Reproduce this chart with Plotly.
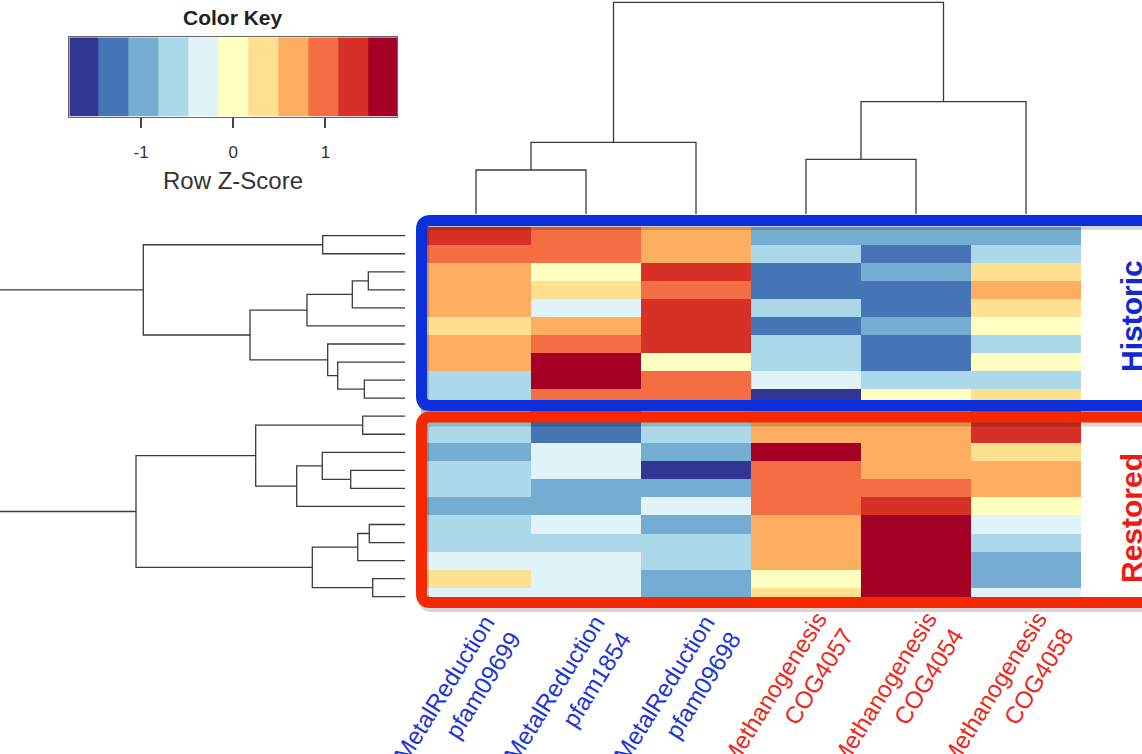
import plotly.graph_objects as go

W, H = 1142, 754

# ---------------- data ----------------
col_names = ["MetalReduction<br>pfam09699", "MetalReduction<br>pfam1854", "MetalReduction<br>pfam09698",
             "Methanogenesis<br>COG4057", "Methanogenesis<br>COG4054", "Methanogenesis<br>COG4058"]
col_groups = ["metal", "metal", "metal", "methano", "methano", "methano"]

# Row z-scores (rows top to bottom); first 10 Historic, last 11 Restored
historic_z = [
    [1.30, 0.97, 0.65, -0.97, -0.97, -0.97],
    [0.97, 0.97, 0.65, -0.65, -1.30, -0.65],
    [0.65, 0.00, 1.30, -1.30, -0.97, 0.32],
    [0.65, 0.32, 0.97, -1.30, -1.30, 0.65],
    [0.65, -0.32, 1.30, -0.65, -1.30, 0.32],
    [0.32, 0.65, 1.30, -1.30, -0.97, 0.00],
    [0.65, 0.97, 1.30, -0.65, -1.30, -0.65],
    [0.65, 1.62, 0.00, -0.65, -1.30, 0.00],
    [-0.65, 1.62, 0.97, -0.32, -0.65, -0.65],
    [-0.65, 0.97, 0.97, -1.62, 0.00, 0.32],
]
restored_z = [
    [-0.65, -1.30, -0.65, 0.65, 0.65, 1.30],
    [-0.65, -1.30, -0.65, 0.65, 0.65, 1.30],
    [-0.97, -0.32, -0.97, 1.62, 0.65, 0.32],
    [-0.65, -0.32, -1.62, 0.97, 0.65, 0.65],
    [-0.65, -0.97, -0.97, 0.97, 0.97, 0.65],
    [-0.97, -0.97, -0.32, 0.97, 1.30, 0.00],
    [-0.65, -0.32, -0.97, 0.65, 1.62, -0.32],
    [-0.65, -0.65, -0.65, 0.65, 1.62, -0.65],
    [-0.32, -0.32, -0.65, 0.65, 1.62, -0.97],
    [0.32, -0.32, -0.97, 0.00, 1.62, -0.97],
    [-0.32, -0.32, -0.97, 0.32, 1.62, -0.32],
]

# Dendrogram merges: (child_a, child_b, height); leaves 0..n-1, merges get ids n, n+1, ...
col_merges = [(0, 1, 0.44), (6, 2, 0.717), (3, 4, 0.547), (8, 5, 1.123), (7, 9, 2.117)]
historic_merges = [(0, 1, 0.823), (2, 3, 0.367), (11, 4, 0.527), (12, 5, 0.98), (8, 9, 0.407),
                   (7, 14, 0.673), (6, 15, 0.773), (13, 16, 1.55), (10, 17, 2.617)]
restored_merges = [(0, 1, 0.423), (3, 4, 0.543), (2, 12, 0.827), (13, 5, 1.083), (11, 14, 1.493),
                   (6, 7, 0.357), (16, 8, 0.473), (9, 10, 0.323), (17, 18, 0.927), (15, 19, 2.69)]
row_stem_height = 4.05

# Color key
key_colors = ["#313695", "#4575b4", "#74add1", "#abd9e9", "#e0f3f8", "#ffffbf",
              "#fee090", "#fdae61", "#f46d43", "#d73027", "#a50026"]
key_centers = [-1.62, -1.30, -0.97, -0.65, -0.32, 0.00, 0.32, 0.65, 0.97, 1.30, 1.62]
key_ticks = [-1, 0, 1]
zlim = 1.78

# ---------------- helpers ----------------
def px(x):
    return x / W

def py(y):
    return 1 - y / H

def dendro_lines(merges, n, offset=0, stem=None):
    pos = {i: i + offset for i in range(n)}
    hgt = {i: 0.0 for i in range(n)}
    P, Hh = [], []
    nid = n
    for a, b, h in merges:
        P += [pos[a], pos[a], pos[b], pos[b], None]
        Hh += [hgt[a], h, h, hgt[b], None]
        pos[nid] = (pos[a] + pos[b]) / 2
        hgt[nid] = h
        nid += 1
    if stem is not None:
        root = nid - 1
        P += [pos[root], pos[root], None]
        Hh += [hgt[root], stem, None]
    return P, Hh

n_hist = len(historic_z)
n_rest = len(restored_z)
z_all = historic_z + restored_z
n_rows = len(z_all)

scale = []
nb = len(key_colors)
for i, c in enumerate(key_colors):
    scale.append([i / nb, c])
    scale.append([(i + 1) / nb, c])

fig = go.Figure()

fig.add_trace(go.Heatmap(z=z_all, x=list(range(6)), y=list(range(n_rows)),
                         colorscale=scale, zmin=-zlim, zmax=zlim, showscale=False,
                         xaxis="x", yaxis="y", hoverinfo="skip"))

line_style = dict(color="#3a3a3a", width=1.3)

cp, ch = dendro_lines(col_merges, 6)
fig.add_trace(go.Scatter(x=cp, y=ch, mode="lines", line=line_style, xaxis="x2", yaxis="y2",
                         showlegend=False, hoverinfo="skip"))
hp, hh = dendro_lines(historic_merges, n_hist, 0, row_stem_height)
fig.add_trace(go.Scatter(x=hh, y=hp, mode="lines", line=line_style, xaxis="x3", yaxis="y3",
                         showlegend=False, hoverinfo="skip"))
rp, rh = dendro_lines(restored_merges, n_rest, n_hist, row_stem_height)
fig.add_trace(go.Scatter(x=rh, y=rp, mode="lines", line=line_style, xaxis="x3", yaxis="y3",
                         showlegend=False, hoverinfo="skip"))

fig.add_trace(go.Heatmap(z=[key_centers], x=key_centers, y=[0], colorscale=scale,
                         zmin=-zlim, zmax=zlim, showscale=False, xaxis="x4", yaxis="y4",
                         hoverinfo="skip"))

hm_x = [px(421), px(1081)]
hm_y = [py(605.7), py(226.7)]
hidden = dict(visible=False, showgrid=False, zeroline=False)
fig.update_layout(
    width=W, height=H, margin=dict(l=0, r=0, t=0, b=0),
    paper_bgcolor="white", plot_bgcolor="rgba(0,0,0,0)",
    xaxis=dict(domain=hm_x, range=[-0.5, 5.5], **hidden),
    yaxis=dict(domain=hm_y, range=[n_rows - 0.5, -0.5], **hidden),
    xaxis2=dict(domain=hm_x, range=[-0.5, 5.5], anchor="y2", **hidden),
    yaxis2=dict(domain=[py(214), 1], range=[0, 2.14], anchor="x2", **hidden),
    xaxis3=dict(domain=[0, px(405)], range=[row_stem_height, 0], anchor="y3", **hidden),
    yaxis3=dict(domain=hm_y, range=[n_rows - 0.5, -0.5], anchor="x3", **hidden),
    xaxis4=dict(domain=[px(69.3), px(397.3)], range=[-zlim, zlim], anchor="y4",
                tickvals=key_ticks, ticktext=["-1", "0", "1"], ticks="outside", ticklen=10,
                tickwidth=1.5, tickcolor="#444", showline=True, mirror=True, linecolor="#666",
                linewidth=1, showgrid=False, zeroline=False, ticklabelstandoff=10,
                tickfont=dict(family="Liberation Sans", size=17, color="#333")),
    yaxis4=dict(domain=[py(116.7), py(37.3)], range=[-0.5, 0.5], anchor="x4",
                showticklabels=False, ticks="", showline=True, mirror=True, linecolor="#666",
                linewidth=1, showgrid=False, zeroline=False),
    showlegend=False,
)

# Rounded group boxes
def rr_path(x0, y0, x1, y1, r):
    return (f"M {px(x0 + r)},{py(y0)} L {px(x1 - r)},{py(y0)} Q {px(x1)},{py(y0)} {px(x1)},{py(y0 + r)} "
            f"L {px(x1)},{py(y1 - r)} Q {px(x1)},{py(y1)} {px(x1 - r)},{py(y1)} "
            f"L {px(x0 + r)},{py(y1)} Q {px(x0)},{py(y1)} {px(x0)},{py(y1 - r)} "
            f"L {px(x0)},{py(y0 + r)} Q {px(x0)},{py(y0)} {px(x0 + r)},{py(y0)} Z")

boxes = [(421.5, 220.5, 1165, 405.5, "#0a2fdb"), (421.5, 417, 1165, 602.5, "#f52800")]
for x0, y0, x1, y1, c in boxes:
    fig.add_shape(type="path", path=rr_path(x0 + 2, y0 + 4, x1 + 2, y1 + 4, 9), xref="paper", yref="paper",
                  line=dict(color="rgba(0,0,0,0.16)", width=11), layer="above")
for x0, y0, x1, y1, c in boxes:
    fig.add_shape(type="path", path=rr_path(x0, y0, x1, y1, 9), xref="paper", yref="paper",
                  line=dict(color=c, width=11), layer="above")

# Text
cm = dict(xanchor="center", yanchor="middle", showarrow=False, xref="paper", yref="paper")
fig.add_annotation(x=px(233), y=py(18), text="<b>Color Key</b>",
                   font=dict(family="Liberation Sans", size=21, color="#222"), **cm)
fig.add_annotation(x=px(233), y=py(181), text="Row Z-Score",
                   font=dict(family="Liberation Sans", size=24, color="#333"), **cm)
fig.add_annotation(x=px(1131), y=py(316), text="<b>Historic</b>", textangle=-90,
                   font=dict(family="Liberation Sans", size=30, color="#1428d0"), **cm)
fig.add_annotation(x=px(1131), y=py(518), text="<b>Restored</b>", textangle=-90,
                   font=dict(family="Liberation Sans", size=30, color="#ee1a14"), **cm)

grp_color = {"metal": "#1c35d8", "methano": "#f0261a"}
for i, (name, g) in enumerate(zip(col_names, col_groups)):
    fig.add_annotation(x=i, y=py(697), xref="x", yref="paper", text=name, xshift=-19,
                       xanchor="center", yanchor="middle",
                       textangle=-58, align="right", showarrow=False,
                       font=dict(family="Liberation Sans", size=24, color=grp_color[g]))

fig.write_html("out.html", config={"displayModeBar": False})

# remove the browser's default page margin so the figure sits at (0, 0)
with open("out.html", "r", encoding="utf-8") as f:
    html = f.read()
html = html.replace("<head>", "<head><style>html,body{margin:0;padding:0;overflow:hidden;}</style>", 1)
with open("out.html", "w", encoding="utf-8") as f:
    f.write(html)
